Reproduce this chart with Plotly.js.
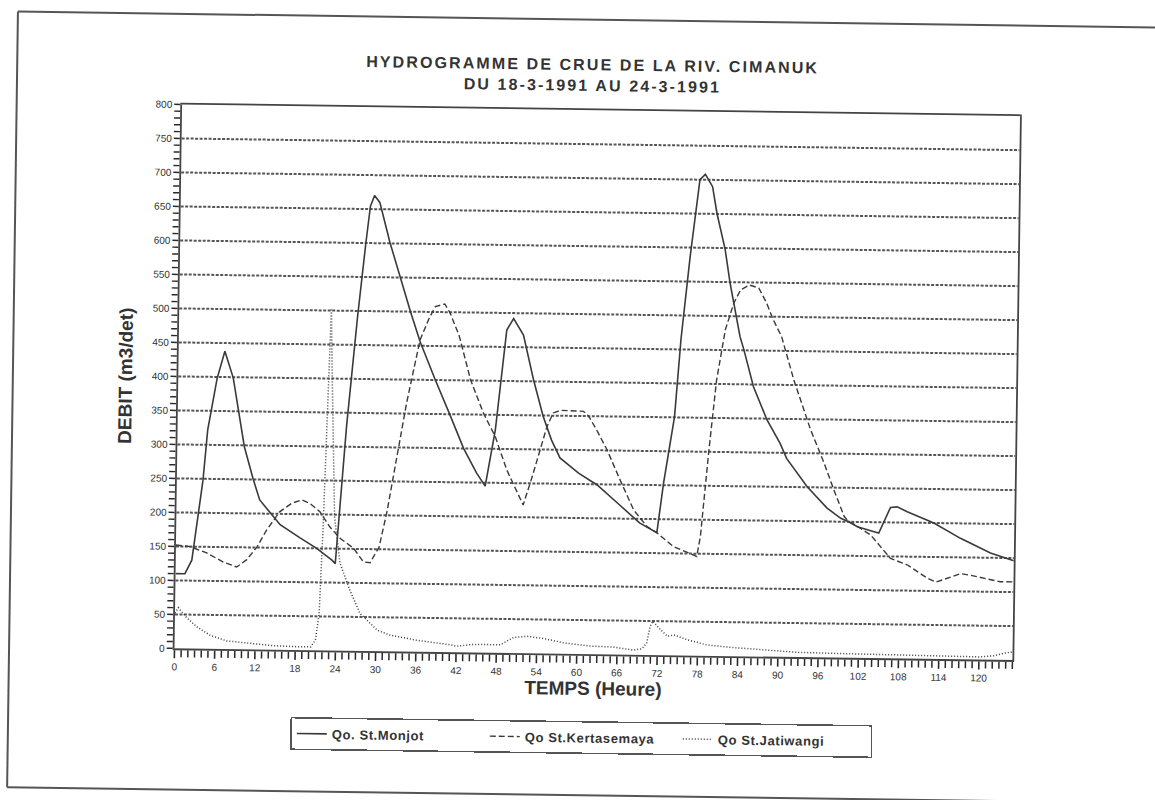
<!DOCTYPE html>
<html>
<head>
<meta charset="utf-8">
<script src="https://cdn.plot.ly/plotly-3.0.1.min.js"></script>
<style>
  html, body { margin: 0; padding: 0; background: #fff; overflow: hidden; }
  #chart { width: 1155px; height: 800px; transform: rotate(0.8deg); transform-origin: 577.5px 400px; }
  /* the whole sheet sits slightly askew, so let thin strokes anti-alias */
  #chart .crisp { shape-rendering: geometricPrecision !important; }
  /* the printed lettering is wider than the stock sans faces */
  #chart .gtitle { letter-spacing: 2.1px; }
  #chart .legendtext { letter-spacing: 0.6px; }
</style>
</head>
<body>
<div id="chart"></div>
<script>
// Discharge (m3/det) against time (hours from 18-3-1991)
const monjotH = [0, 1.4, 2.4, 3.9, 4.5, 5.8, 6.9, 8.2, 10.0, 11.4, 12.4, 14.0, 15.5, 18.5, 21.0, 23.3, 23.8, 25.2, 26.6, 27.7, 28.3, 28.9, 29.7, 31.3, 32.9, 34.5, 36.0, 38.3, 40.6, 42.7, 44.7, 46.0, 47.4, 48.9, 49.9, 51.4, 53.0, 54.5, 55.8, 57.1, 59.9, 62.7, 66.1, 69.1, 71.7, 72.6, 74.1, 74.9, 76.1, 76.8, 77.4, 78.2, 79.3, 80.0, 81.3, 82.1, 82.6, 83.7, 84.3, 85.8, 87.9, 89.9, 90.9, 94.0, 97.0, 99.1, 100.3, 101.6, 104.1, 104.8, 106.5, 107.5, 109.0, 113.0, 117.0, 121.5, 125];
const monjotQ = [110, 110, 130, 248, 322, 398, 438, 399, 298, 250, 220, 201, 184, 165, 150, 133, 128, 330, 490, 600, 654, 670, 660, 601, 550, 500, 456, 401, 349, 300, 264, 245, 328, 475, 492, 468, 402, 349, 314, 288, 266, 249, 220, 194, 180, 253, 351, 465, 587, 651, 700, 708, 690, 651, 598, 549, 524, 470, 451, 397, 348, 314, 292, 251, 220, 205, 200, 193, 186, 184, 222, 223, 216, 200, 178, 157, 146];

const kertH = [0, 2.1, 4.6, 7.1, 9.1, 10.6, 12.1, 13.5, 15.4, 17.2, 18.7, 19.9, 21.4, 22.9, 24.5, 26.5, 28.0, 29.0, 29.5, 30.3, 31.4, 32.3, 33.2, 34.1, 35.1, 36.0, 37.4, 38.2, 39.6, 40.4, 41.8, 43.6, 45.6, 47.4, 49.2, 51.7, 53.0, 54.1, 55.1, 56.0, 57.1, 60.5, 61.3, 62.5, 64.1, 66.1, 68.2, 70.2, 71.7, 74.2, 76.8, 77.7, 78.2, 79.3, 80.3, 81.5, 82.7, 83.7, 85.0, 86.4, 87.6, 88.6, 89.9, 91.8, 94.4, 96.5, 98.0, 99.6, 100.3, 101.0, 103.6, 105.1, 106.6, 109.1, 112.1, 113.4, 115.1, 117.1, 118.5, 123.0, 125];
const kertQ = [152, 150, 141, 128, 121, 132, 151, 176, 203, 216, 221, 216, 204, 182, 165, 151, 131, 130, 139, 153, 205, 260, 314, 365, 415, 459, 493, 508, 512, 499, 466, 401, 352, 318, 269, 218, 260, 300, 334, 354, 358, 357, 350, 330, 301, 257, 213, 189, 180, 160, 150, 146, 175, 303, 406, 480, 519, 539, 546, 542, 520, 496, 471, 408, 335, 286, 247, 208, 200, 197, 181, 164, 147, 138, 119, 113, 119, 126, 124, 115, 115];

const jatiH = [0, 0.5, 1.6, 3.3, 5.3, 7.8, 11.3, 14.8, 18.3, 20.3, 21.0, 21.5, 21.9, 22.2, 22.4, 22.7, 22.9, 23.2, 23.6, 24.5, 26.0, 27.6, 30.2, 32.1, 36.1, 41.1, 42.0, 44.6, 48.6, 49.8, 50.6, 52.6, 55.1, 58.1, 62.0, 65.4, 68.4, 69.7, 70.4, 70.9, 71.3, 72.5, 73.5, 74.5, 76.5, 79.4, 82.9, 87.9, 92.8, 100.3, 106.8, 113.3, 120.2, 122.2, 123.7, 125];
const jatiQ = [52, 60, 47, 32, 20, 12, 9, 6, 5, 5, 15, 54, 177, 300, 423, 503, 423, 325, 197, 129, 90, 55, 31, 24, 17, 11, 9, 12, 12, 19, 23, 25, 22, 16, 12, 11, 7, 9, 17, 42, 50, 37, 28, 30, 23, 16, 13, 10, 7, 6, 5, 4, 4, 6, 10, 12];

const seriesNames = ['Qo. St.Monjot', 'Qo St.Kertasemaya', 'Qo St.Jatiwangi'];

const ink = '#3a3a3a';
const tickInk = '#2a2a2a';
const font = 'Liberation Sans, Arial, Helvetica, sans-serif';

const traces = [
  { x: monjotH, y: monjotQ, name: seriesNames[0], mode: 'lines',
    line: { color: ink, width: 1.6 } },
  { x: kertH, y: kertQ, name: seriesNames[1], mode: 'lines',
    line: { color: ink, width: 1.4, dash: '6px,3px' } },
  { x: jatiH, y: jatiQ, name: seriesNames[2], mode: 'lines',
    line: { color: ink, width: 1.5, dash: '1px,2px' } }
];

const frame = { color: '#555', width: 2 };

const layout = {
  width: 1155, height: 800,
  paper_bgcolor: '#fff', plot_bgcolor: '#fff',
  margin: { l: 178, r: 139, t: 110, b: 146, autoexpand: false },
  title: {
    text: 'HYDROGRAMME DE CRUE DE LA RIV. CIMANUK<br>DU 18-3-1991 AU 24-3-1991',
    font: { family: font, size: 16, color: '#333', weight: 'bold' },
    x: 588 / 1155, xref: 'container', xanchor: 'center',
    y: 1 - 70 / 800, yref: 'container', yanchor: 'middle'
  },
  xaxis: {
    range: [0, 125], tickmode: 'linear', tick0: 0, dtick: 6,
    ticks: 'outside', ticklen: 8, tickwidth: 1.6, tickcolor: tickInk,
    minor: { tickmode: 'linear', tick0: 0, dtick: 1, ticks: 'outside', ticklen: 7, tickwidth: 1.5, tickcolor: tickInk, showgrid: false },
    showline: true, mirror: true, linecolor: '#444', linewidth: 1.8,
    showgrid: false, zeroline: false, automargin: false,
    tickfont: { family: font, size: 10, color: '#333' },
    title: { text: 'TEMPS (Heure)', standoff: 4,
      font: { family: font, size: 19, color: '#333', weight: 'bold' } }
  },
  yaxis: {
    range: [0, 800], tickmode: 'linear', tick0: 0, dtick: 50,
    ticks: 'outside', ticklen: 6, tickwidth: 1.5, tickcolor: tickInk,
    minor: { tickmode: 'linear', tick0: 0, dtick: 10, ticks: 'outside', ticklen: 6, tickwidth: 1.4, tickcolor: tickInk, showgrid: false },
    showline: true, mirror: true, linecolor: '#444', linewidth: 1.8,
    showgrid: true, gridcolor: '#555', gridwidth: 2, griddash: '3px,1.5px',
    zeroline: false, automargin: false,
    tickfont: { family: font, size: 10, color: '#333' },
    title: { text: 'DEBIT (m3/det)', standoff: 14,
      font: { family: font, size: 19, color: '#333', weight: 'bold' } }
  },
  showlegend: true,
  legend: {
    orientation: 'h', x: 0.1396, xanchor: 'left', y: -0.123, yanchor: 'top',
    bgcolor: '#fff', bordercolor: '#555', borderwidth: 1.5,
    entrywidth: 148, entrywidthmode: 'pixels', itemwidth: 30,
    font: { family: font, size: 13, color: '#333', weight: 'bold' }
  },
  shapes: [
    { type: 'line', xref: 'paper', yref: 'paper', x0: -0.1974, x1: 1.25, y0: 1.1665, y1: 1.1665, line: frame },
    { type: 'line', xref: 'paper', yref: 'paper', x0: -0.1974, x1: -0.1974, y0: 1.1665, y1: -0.2594, line: frame },
    { type: 'line', xref: 'paper', yref: 'paper', x0: -0.1974, x1: 1.25, y0: -0.2594, y1: -0.2594, line: frame }
  ]
};

Plotly.newPlot('chart', traces, layout, { staticPlot: true, displayModeBar: false });
</script>
</body>
</html>
